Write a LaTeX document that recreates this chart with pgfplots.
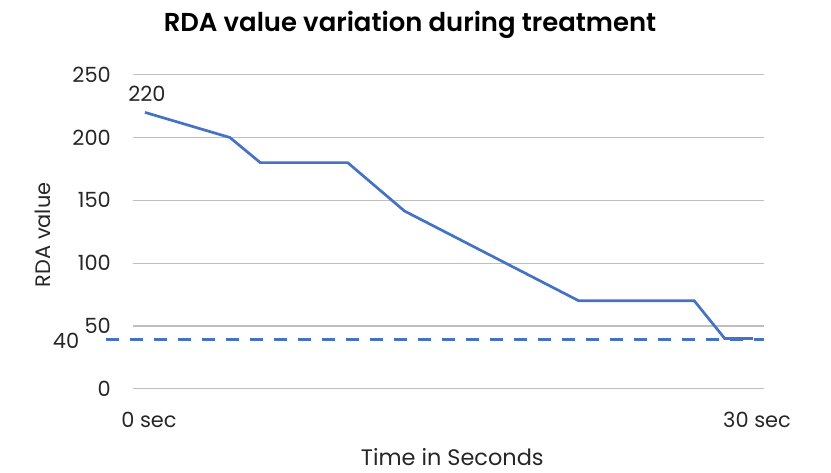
\documentclass[border=0pt]{standalone}
\usepackage{fontspec}
\setmainfont{Poppins}
\newfontfamily\titlefont{Poppins SemiBold}
\usepackage{pgfplots}
\pgfplotsset{compat=1.18}
\definecolor{xblue}{HTML}{4472C4}
\definecolor{xgrid}{HTML}{BFBFBF}
\begin{document}
\begin{tikzpicture}
\begin{axis}[
  at={(0,0)}, anchor=south west,
  scale only axis, width=631bp, height=314bp,
  xmin=-0.59, xmax=30.54, ymin=0, ymax=250,
  clip=false,
  axis line style={draw=none},
  tick style={draw=none},
  ymajorgrids, grid style={xgrid, line width=1.2bp},
  ytick={0,50,100,150,200,250},
  xtick={0,30}, xticklabels={0 sec, 30 sec},
  /pgf/number format/assume math mode=true,
  ticklabel style={font=\fontsize{21}{24}\selectfont, text=black!85},
  yticklabel style={anchor=east, inner sep=0pt, xshift=-22bp},
  xticklabel style={anchor=center, inner sep=0pt, yshift=-31bp, xshift=4bp},
  every axis title shift=0pt,
  title={RDA value variation during treatment},
  title style={at={(axis description cs:0.439,1.158)}, anchor=center, font=\titlefont\fontsize{26}{29}\selectfont},
  ylabel={RDA value},
  ylabel style={at={(axis description cs:-0.143,0.49)}, anchor=center, rotate=0, font=\fontsize{21}{24}\selectfont, text=black!85},
  xlabel={Time in Seconds},
  xlabel style={at={(axis description cs:0.506,-0.2175)}, anchor=center, font=\fontsize{22.5}{26}\selectfont, text=black!85},
]
\addplot[xblue, line width=2.7bp, dash pattern=on 13bp off 11bp] coordinates {(-1.92,39) (30.54,39)};
\addplot[xblue, line width=2.7bp] coordinates {
(0,220) (4.19,200) (5.69,180) (10,180) (12.8,141.5) (21.4,70) (27.1,70) (28.6,40) (30,40)
};
\node[font=\fontsize{21}{24}\selectfont, text=black!85] at (axis cs:0,220) [xshift=2bp, yshift=19bp] {220};
\node[font=\fontsize{21}{24}\selectfont, text=black!85] at (axis cs:-0.59,39) [xshift=-67bp, yshift=-1bp] {40};
\path[use as bounding box] (axis cs:-0.59,0) ++(-133bp,-84.3bp) rectangle ++(831bp,473bp);
\end{axis}
\end{tikzpicture}
\end{document}
